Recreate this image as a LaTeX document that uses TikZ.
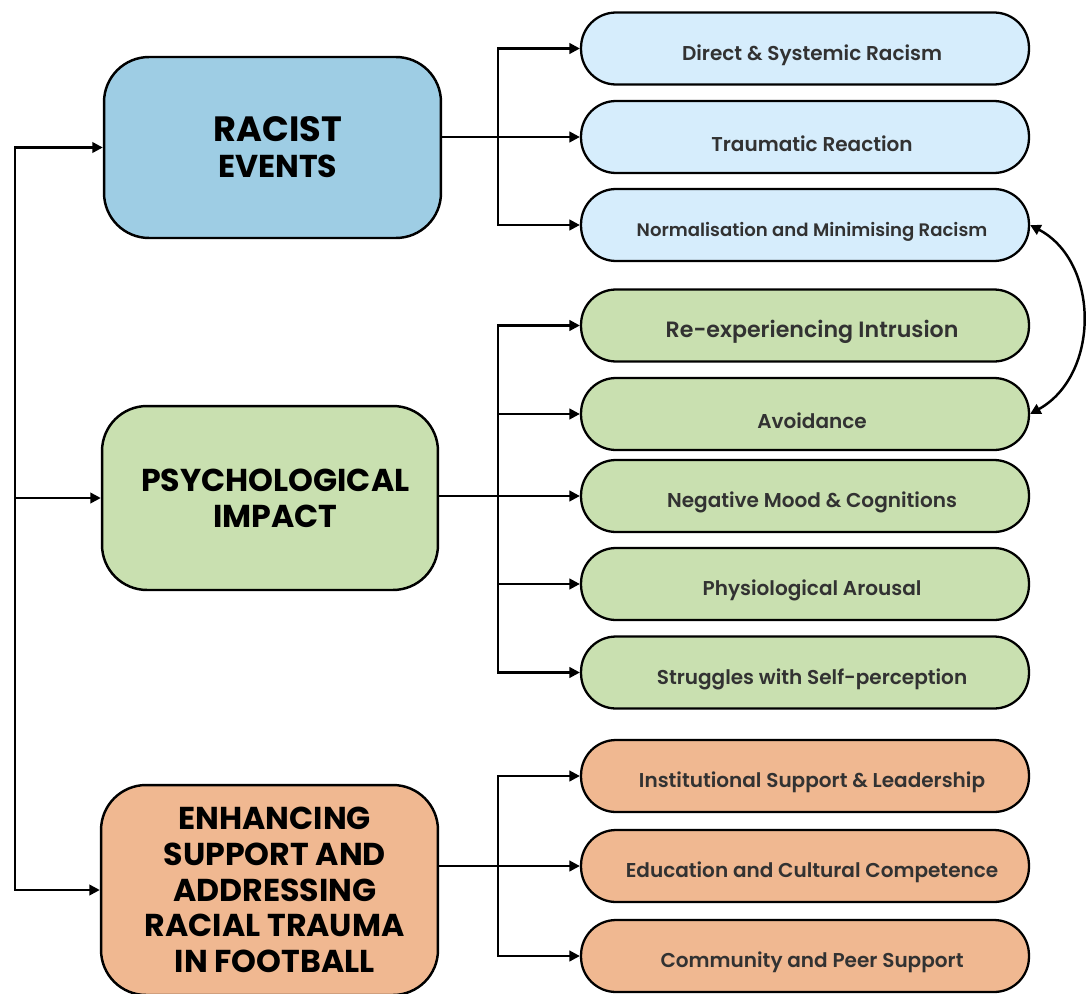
\documentclass[tikz,border=0pt]{standalone}
\usepackage{fontspec}
\setmainfont{Poppins}
\newfontfamily\headfont{Poppins Bold}
\newfontfamily\kidfont{Poppins SemiBold}
\usetikzlibrary{arrows.meta}
\definecolor{racistblue}{RGB}{158,205,228}
\definecolor{kidblue}{RGB}{214,237,252}
\definecolor{kidgreen}{RGB}{201,224,176}
\definecolor{kidorange}{RGB}{240,184,145}
\definecolor{kidtext}{RGB}{50,50,50}
\begin{document}
\begin{tikzpicture}[x=0.02cm,y=-0.02cm,
  line width=1.4pt,
  arr/.style={-{Triangle[length=6pt,width=6pt]}},
  busline/.style={line cap=rect},
  headlabel/.style={xshift=3pt, align=center, text=black, inner sep=0pt,
    font=\headfont\fontsize{18}{20.4}\selectfont},
  mainbox/.style={draw=black, line width=1.4pt, rounded corners=0.9cm, inner sep=0pt,
    label={[headlabel]center:#1}},
  kidlabel/.style={xshift=4pt, yshift=-3.8pt, text=kidtext, font=\kidfont\fontsize{11.4}{13}\selectfont},
  kid/.style={draw=black, line width=1.3pt, rounded corners=0.7cm, minimum width=8.96cm,
    minimum height=1.44cm, inner sep=0pt, label={[kidlabel]center:#1}}]
\useasboundingbox (0,0) rectangle (1087,993);
\fill[white] (0,0) rectangle (1087,993);
\clip (0,0) rectangle (1087,993);

% main boxes
\node[mainbox={\fontsize{20}{22}\selectfont RACIST\\EVENTS}, fill=racistblue,
  minimum width=6.74cm, minimum height=3.62cm] (racist) at (272.5,147.5) {};
\node[mainbox={PSYCHOLOGICAL\\IMPACT}, fill=kidgreen,
  minimum width=6.72cm, minimum height=3.68cm] (psych) at (270,498) {};
\node[mainbox={ENHANCING\\SUPPORT AND\\ADDRESSING\\RACIAL TRAUMA\\IN FOOTBALL}, fill=kidorange,
  minimum width=6.74cm, minimum height=4.2cm] (enh) at (269.5,890) {};

% child boxes
\node[kid={Direct \& Systemic Racism}, fill=kidblue] (direct) at (805,48.5) {};
\node[kid={Traumatic Reaction}, fill=kidblue] (trauma) at (805,137) {};
\node[kid={\fontsize{10.3}{12}\selectfont Normalisation and Minimising Racism}, fill=kidblue] (norm) at (805,225) {};
\node[kid={\fontsize{12.6}{14}\selectfont Re-experiencing Intrusion}, fill=kidgreen] (reexp) at (805,325.5) {};
\node[kid={Avoidance}, fill=kidgreen] (avoid) at (805,414) {};
\node[kid={Negative Mood \& Cognitions}, fill=kidgreen] (negmood) at (805,496) {};
\node[kid={Physiological Arousal}, fill=kidgreen] (physio) at (805,584) {};
\node[kid={Struggles with Self-perception}, fill=kidgreen] (strug) at (805,672.5) {};
\node[kid={Institutional Support \& Leadership}, fill=kidorange] (inst) at (805,776) {};
\node[kid={Education and Cultural Competence}, fill=kidorange] (educ) at (805,866) {};
\node[kid={Community and Peer Support}, fill=kidorange] (comm) at (805,956) {};

% left trunk
\coordinate (tk) at (15,0);
\draw[busline] (tk |- racist.west) -- (tk |- enh.west);
\draw[arr] (tk |- racist.west) -- (racist.west);
\draw[arr] (tk |- psych.west) -- (psych.west);
\draw[arr] (tk |- enh.west) -- (enh.west);

% buses
\coordinate (bx) at (498,0);
\draw[arr] (racist.east |- trauma.west) -- (trauma.west);
\draw[busline] (bx |- direct.west) -- (bx |- norm.west);
\draw[arr] (bx |- direct.west) -- (direct.west);
\draw[arr] (bx |- norm.west) -- (norm.west);

\draw[arr] (psych.east |- negmood.west) -- (negmood.west);
\draw[busline] (bx |- reexp.west) -- (bx |- strug.west);
\draw[arr] (bx |- reexp.west) -- (reexp.west);
\draw[arr] (bx |- avoid.west) -- (avoid.west);
\draw[arr] (bx |- physio.west) -- (physio.west);
\draw[arr] (bx |- strug.west) -- (strug.west);

\draw[arr] (enh.east |- educ.west) -- (educ.west);
\draw[busline] (bx |- inst.west) -- (bx |- comm.west);
\draw[arr] (bx |- inst.west) -- (inst.west);
\draw[arr] (bx |- comm.west) -- (comm.west);

% curved double arrow
\draw[{Triangle[length=6pt,width=6pt]}-{Triangle[length=6pt,width=6pt]}]
  (norm.east) .. controls (1100,262) and (1100,375) .. (avoid.east);
\end{tikzpicture}
\end{document}
